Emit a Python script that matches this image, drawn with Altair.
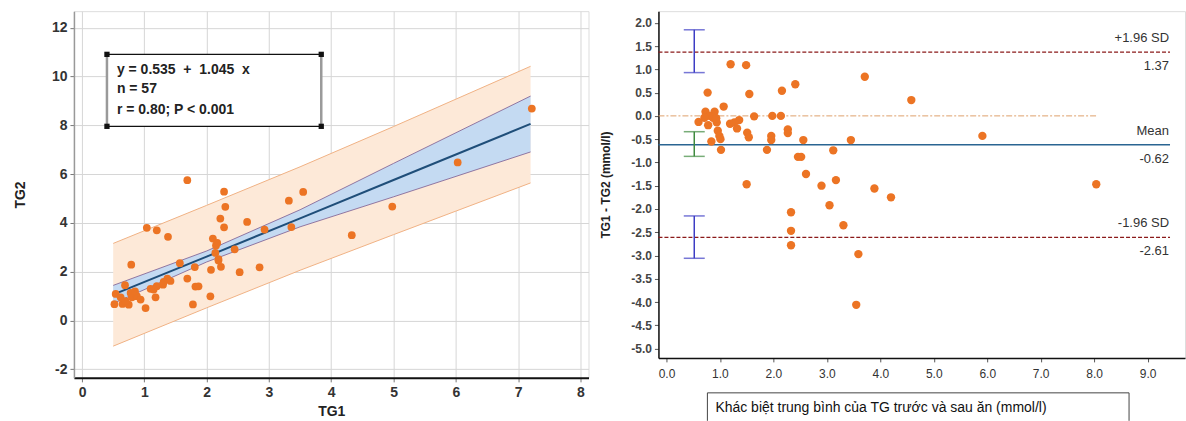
import altair as alt
import pandas as pd

FONT = "Liberation Sans"

# ---------------- left panel: TG1 vs TG2 ----------------
tg1 = [1.69, 2.28, 2.30, 3.32, 3.55, 7.22, 6.03, 4.98, 4.33, 3.36,
       1.04, 1.20, 1.38, 2.22, 2.28, 2.10, 2.15, 2.65, 2.93, 2.45,
       0.79, 1.57, 1.81, 2.07, 2.19, 2.23, 2.53, 2.85, 2.14, 1.69,
       1.82, 2.06, 1.78, 1.37, 1.31, 1.20, 1.15, 1.18, 1.02, 0.69,
       0.54, 0.52, 0.65, 0.75, 0.80, 0.88, 0.94, 0.78, 0.85, 0.70,
       1.30, 1.42, 2.17, 1.10, 0.62, 2.19, 1.87]
tg2 = [5.75, 5.28, 4.66, 4.91, 5.27, 8.69, 6.48, 4.67, 3.50, 3.83,
       3.80, 3.70, 3.43, 4.18, 3.82, 3.36, 3.08, 4.04, 3.73, 2.92,
       2.29, 2.35, 2.19, 2.08, 2.52, 2.20, 1.98, 2.18, 2.77, 1.72,
       1.39, 0.99, 0.66, 1.72, 1.58, 1.41, 1.27, 0.95, 0.51, 1.45,
       1.09, 0.67, 0.68, 0.65, 0.95, 1.00, 0.86, 1.13, 1.20, 0.80,
       1.47, 1.62, 3.18, 1.30, 0.95, 2.46, 1.40]

# regression line, confidence and prediction bands
band_x = [0.5, 2.0, 3.5, 5.0, 7.2]
fit_y = [1.06, 2.62, 4.19, 5.76, 8.06]
ci_lo = [0.70, 2.40, 3.84, 5.07, 6.91]
ci_hi = [1.44, 2.85, 4.54, 6.44, 9.20]
pi_lo = [-1.05, 0.52, 2.06, 3.52, 5.64]
pi_hi = [3.16, 4.72, 6.30, 7.95, 10.42]

stats_text = ["y = 0.535\u00a0\u00a0+\u00a0\u00a01.045\u00a0\u00a0x", "n = 57", "r = 0.80; P < 0.001"]
stats_y = [10.26, 9.48, 8.61]
stats_x = 0.56
box_x = [0.40, 3.84]
box_y = [7.96, 10.91]

# ---------------- right panel: Bland-Altman ----------------
ba_mean = [1.20, 1.49, 0.77, 1.55, 2.16, 2.41, 3.71, 4.58, 1.07, 0.73,
           0.90, 0.80, 0.71, 0.87, 0.60, 0.94, 1.19, 1.36, 1.27, 1.32,
           1.64, 1.98, 2.14, 0.96, 0.99, 1.01, 0.84, 1.02, 1.51, 1.54,
           1.96, 1.96, 2.27, 2.27, 2.56, 3.45, 1.88, 3.12, 2.46, 2.52,
           2.61, 1.50, 2.90, 3.17, 3.89, 4.20, 3.05, 2.33, 3.31, 2.33,
           2.33, 3.59, 3.55, 5.91, 8.04, 0.93, 0.78]
ba_diff = [1.11, 1.09, 0.50, 0.47, 0.54, 0.68, 0.84, 0.34, 0.20, 0.09,
           0.09, 0.00, -0.04, -0.04, -0.13, -0.14, -0.17, -0.09, -0.14, -0.27,
           -0.01, 0.00, 0.00, -0.32, -0.43, -0.50, -0.55, -0.73, -0.36, -0.46,
           -0.43, -0.52, -0.29, -0.37, -0.52, -0.52, -0.73, -0.74, -0.88, -0.88,
           -1.25, -1.47, -1.50, -1.38, -1.56, -1.75, -1.92, -2.07, -2.35, -2.47,
           -2.78, -2.97, -4.06, -0.43, -1.47, -0.05, -0.20]

ref_values = [1.37, -0.62, -2.61]
ref_top = ["+1.96 SD", "Mean", "-1.96 SD"]
ref_bottom = ["1.37", "-0.62", "-2.61"]
ref_kind = ["loa", "mean", "loa"]

ci_x = [0.52, 0.52, 0.52]
ci_low_r = [0.93, -0.87, -3.06]
ci_high_r = [1.85, -0.34, -2.15]
ci_color = ["#3d3dc4", "#3f8a3f", "#3d3dc4"]

x_title_right = "Khác biệt trung bình của TG trước và sau ăn (mmol/l)"
yr_ticks = [-5.0, -4.5, -4.0, -3.5, -3.0, -2.5, -2.0, -1.5, -1.0, -0.5, 0.0, 0.5, 1.0, 1.5, 2.0]

ORANGE = "#ec7424"

# ---------------- sizes ----------------
LW, LH = 515, 367
RW, RH = 527, 347

HYPHEN_INT = "datum.value < 0 ? '-' + format(-datum.value, 'd') : format(datum.value, 'd')"
HYPHEN_1F = "datum.value < 0 ? '-' + format(-datum.value, '.1f') : format(datum.value, '.1f')"

# ---------------- left chart ----------------
XL = alt.Scale(domain=[-0.13, 8.13], nice=False, zero=False)
YL = alt.Scale(domain=[-2.35, 12.68], nice=False, zero=False)
ax_xl = alt.Axis(values=list(range(0, 9)), title="TG1", grid=True, gridColor="#d6d6d6",
                 domainColor="#111", domainWidth=2, tickColor="#777", tickSize=4,
                 labelFont=FONT, labelFontSize=14, labelFontWeight="bold", labelColor="#333",
                 labelPadding=4, titleFont=FONT, titleFontSize=14, titleFontWeight="bold",
                 titleColor="#222", titlePadding=5)
ax_yl = alt.Axis(values=list(range(-2, 13, 2)), title="TG2", grid=True, gridColor="#d6d6d6",
                 labelExpr=HYPHEN_INT,
                 domainColor="#999", domainWidth=1.5, tickColor="#777", tickSize=4,
                 labelFont=FONT, labelFontSize=14, labelFontWeight="bold", labelColor="#333",
                 labelPadding=3, titleFont=FONT, titleFontSize=14, titleFontWeight="bold",
                 titleColor="#222", titlePadding=24)

def xl(f):
    return alt.X(f, type="quantitative", scale=XL, axis=ax_xl)

def yl(f):
    return alt.Y(f, type="quantitative", scale=YL, axis=ax_yl)

df_band = pd.DataFrame({"x": band_x, "fit": fit_y, "ci_lo": ci_lo, "ci_hi": ci_hi,
                        "pi_lo": pi_lo, "pi_hi": pi_hi})
df_pts = pd.DataFrame({"x": tg1, "y": tg2})

pi_area = alt.Chart(df_band).mark_area(color="#fde9d8").encode(x=xl("x"), y=yl("pi_lo"), y2="pi_hi")
pi_l1 = alt.Chart(df_band).mark_line(color="#f0b285", strokeWidth=1).encode(x=xl("x"), y=yl("pi_lo"))
pi_l2 = alt.Chart(df_band).mark_line(color="#f0b285", strokeWidth=1).encode(x=xl("x"), y=yl("pi_hi"))
ci_area = alt.Chart(df_band).mark_area(color="#c4daf2").encode(x=xl("x"), y=yl("ci_lo"), y2="ci_hi")
ci_l1 = alt.Chart(df_band).mark_line(color="#7a5a90", strokeWidth=0.8).encode(x=xl("x"), y=yl("ci_lo"))
ci_l2 = alt.Chart(df_band).mark_line(color="#7a5a90", strokeWidth=0.8).encode(x=xl("x"), y=yl("ci_hi"))
fit_line = alt.Chart(df_band).mark_line(color="#1f4e79", strokeWidth=2).encode(x=xl("x"), y=yl("fit"))
pts_l = alt.Chart(df_pts).mark_circle(size=60, color=ORANGE, opacity=1).encode(x=xl("x"), y=yl("y"))

df_box = pd.DataFrame({"x": [box_x[0]], "x2": [box_x[1]], "y": [box_y[0]], "y2": [box_y[1]]})
box_fill = alt.Chart(df_box).mark_rect(color="white").encode(x=xl("x"), x2="x2", y=yl("y"), y2="y2")
df_box_h = pd.DataFrame({"x": [box_x[0], box_x[0]], "x2": [box_x[1], box_x[1]], "y": box_y})
box_h = alt.Chart(df_box_h).mark_rule(color="#111", strokeWidth=1.2).encode(x=xl("x"), x2="x2", y=yl("y"))
df_box_v = pd.DataFrame({"x": box_x, "y": [box_y[0], box_y[0]], "y2": [box_y[1], box_y[1]]})
box_v = alt.Chart(df_box_v).mark_rule(color="#9a9a9a", strokeWidth=2.5).encode(x=xl("x"), y=yl("y"), y2="y2")
df_corner = pd.DataFrame({"x": [box_x[0], box_x[1], box_x[0], box_x[1]],
                          "y": [box_y[0], box_y[0], box_y[1], box_y[1]]})
corners = alt.Chart(df_corner).mark_square(size=28, color="#111", opacity=1).encode(x=xl("x"), y=yl("y"))
df_stats = pd.DataFrame({"x": [stats_x] * 3, "y": stats_y, "t": stats_text})
stats = alt.Chart(df_stats).mark_text(align="left", baseline="middle", font=FONT, fontSize=14,
                                      fontWeight="bold", color="#222").encode(x=xl("x"), y=yl("y"), text="t:N")

left = alt.layer(pi_area, pi_l1, pi_l2, ci_area, ci_l1, ci_l2, fit_line, pts_l,
                 box_fill, box_h, box_v, corners, stats).properties(width=LW, height=LH)

# ---------------- right chart ----------------
XR = alt.Scale(domain=[-0.15, 9.7], nice=False, zero=False)
YR = alt.Scale(domain=[-5.2, 2.25], nice=False, zero=False)
ax_xr = alt.Axis(values=list(range(0, 10)), format=".1f", title=None, grid=False,
                 domainColor="#111", domainWidth=1.5, tickColor="#555", tickSize=4,
                 labelFont=FONT, labelFontSize=12, labelColor="#333", labelPadding=7)
ax_yr = alt.Axis(values=yr_ticks, labelExpr=HYPHEN_1F, title="TG1 - TG2 (mmol/l)", grid=False,
                 domainColor="#111", domainWidth=1.5, tickColor="#555", tickSize=4,
                 labelFont=FONT, labelFontSize=12, labelFontWeight="bold", labelColor="#444",
                 labelPadding=3, titleFont=FONT, titleFontSize=12, titleFontWeight="bold",
                 titleColor="#222", titlePadding=18)

def xr(f):
    return alt.X(f, type="quantitative", scale=XR, axis=ax_xr)

def yr(f):
    return alt.Y(f, type="quantitative", scale=YR, axis=ax_yr)

df_zero = pd.DataFrame({"y": [0.0]})
zero_line = alt.Chart(df_zero).mark_rule(color="#dea06a", strokeDash=[6, 2, 2, 2], strokeWidth=1).encode(
    y=yr("y"), x=alt.value(0), x2=alt.value(440))

df_ref = pd.DataFrame({"y": ref_values, "top": ref_top, "bottom": ref_bottom, "kind": ref_kind})
loa_lines = alt.Chart(df_ref).transform_filter("datum.kind == 'loa'").mark_rule(
    color="#8b1a1a", strokeDash=[4, 2], strokeWidth=1.2).encode(y=yr("y"), x=alt.value(0), x2=alt.value(512))
mean_line = alt.Chart(df_ref).transform_filter("datum.kind == 'mean'").mark_rule(
    color="#2a6592", strokeWidth=1.5).encode(y=yr("y"), x=alt.value(0), x2=alt.value(512))
lab_top = alt.Chart(df_ref).mark_text(align="right", baseline="middle", dy=-14, font=FONT,
                                      fontSize=13, color="#333").encode(
    y=yr("y"), x=alt.value(511), text="top:N")
lab_bot = alt.Chart(df_ref).mark_text(align="right", baseline="middle", dy=14, font=FONT,
                                      fontSize=13, color="#333").encode(
    y=yr("y"), x=alt.value(511), text="bottom:N")

df_ba = pd.DataFrame({"x": ba_mean, "y": ba_diff})
pts_r = alt.Chart(df_ba).mark_circle(size=70, color=ORANGE, opacity=1).encode(x=xr("x"), y=yr("y"))

df_ci = pd.DataFrame({"x": ci_x, "lo": ci_low_r, "hi": ci_high_r, "c": ci_color})
ci_bar = alt.Chart(df_ci).mark_rule(strokeWidth=1.5).encode(
    x=xr("x"), y=yr("lo"), y2="hi", color=alt.Color("c:N", scale=None))
ci_cap1 = alt.Chart(df_ci).mark_tick(orient="horizontal", size=21, thickness=1.5).encode(
    x=xr("x"), y=yr("lo"), color=alt.Color("c:N", scale=None))
ci_cap2 = alt.Chart(df_ci).mark_tick(orient="horizontal", size=21, thickness=1.5).encode(
    x=xr("x"), y=yr("hi"), color=alt.Color("c:N", scale=None))

df_one = pd.DataFrame({"t": [x_title_right]})
tb_top = alt.Chart(df_one).mark_rule(color="#444", strokeWidth=1).encode(
    x=alt.value(49), x2=alt.value(471), y=alt.value(382))
tb_left = alt.Chart(df_one).mark_rule(color="#444", strokeWidth=1).encode(
    x=alt.value(49), y=alt.value(382), y2=alt.value(410))
tb_right = alt.Chart(df_one).mark_rule(color="#444", strokeWidth=1).encode(
    x=alt.value(471), y=alt.value(382), y2=alt.value(410))
tb_text = alt.Chart(df_one).mark_text(align="left", baseline="middle", font=FONT, fontSize=14,
                                      color="#111").encode(x=alt.value(57), y=alt.value(397), text="t:N")

right = alt.layer(zero_line, loa_lines, mean_line, pts_r, ci_bar, ci_cap1, ci_cap2,
                  lab_top, lab_bot, tb_top, tb_left, tb_right, tb_text).properties(width=RW, height=RH)

chart = alt.hconcat(left, right, spacing=9).properties(
    padding={"left": 12, "top": 10, "right": 0, "bottom": 0}
).configure_view(stroke="transparent").configure(background="white")

chart.save("out.html", embed_options={"renderer": "svg", "actions": False})
